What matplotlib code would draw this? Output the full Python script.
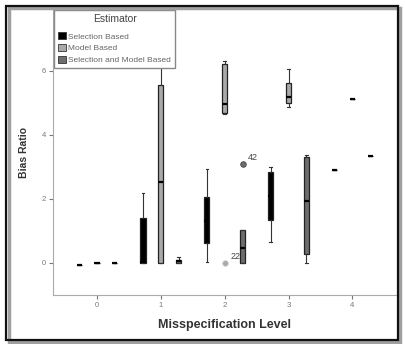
import matplotlib
matplotlib.use("Agg")
import matplotlib.pyplot as plt
from matplotlib.patches import Patch, Rectangle

plt.rcParams["font.family"] = ["Liberation Sans", "DejaVu Sans"]

# misspecification levels and box stats (whislo, q1, med, q3, whishi)
levels = [0, 1, 2, 3, 4]
estimators = ["Selection Based", "Model Based", "Selection and Model Based"]
colors = ["#000000", "#a9a9a9", "#6e6e6e"]
offsets = [-0.28, 0.0, 0.28]

sel_stats = [
    (-0.07, -0.07, -0.07, -0.07, -0.07),
    (0.0, 0.0, 0.03, 1.41, 2.2),
    (0.03, 0.63, 1.3, 2.05, 2.95),
    (0.65, 1.35, 2.1, 2.83, 3.0),
    (2.9, 2.9, 2.9, 2.9, 2.9),
]
mod_stats = [
    (0.0, 0.0, 0.0, 0.0, 0.0),
    (0.0, 0.0, 2.52, 5.57, 6.6),
    (4.65, 4.69, 4.97, 6.2, 6.3),
    (4.88, 5.0, 5.17, 5.63, 6.06),
    (5.13, 5.13, 5.13, 5.13, 5.13),
]
sm_stats = [
    (0.01, 0.01, 0.01, 0.01, 0.01),
    (0.0, 0.0, 0.05, 0.1, 0.2),
    (0.0, 0.0, 0.46, 1.02, 1.02),
    (0.0, 0.29, 1.92, 3.31, 3.38),
    (3.35, 3.35, 3.35, 3.35, 3.35),
]
all_stats = [sel_stats, mod_stats, sm_stats]

# labelled outliers: (estimator index, level, value, case label)
outliers = [(1, 2, 0.0, "22"), (2, 2, 3.08, "42")]

fig = plt.figure(figsize=(4.05, 3.44), dpi=100)
ax = fig.add_axes([53 / 405, 49 / 344, 344 / 405, 285 / 344])

for k, stats in enumerate(all_stats):
    bxp_stats = []
    for lev, (lo, q1, med, q3, hi) in zip(levels, stats):
        fl = [v for (e, l, v, _) in outliers if e == k and l == lev]
        bxp_stats.append(dict(whislo=lo, q1=q1, med=med, q3=q3, whishi=hi, fliers=fl))
    ax.bxp(bxp_stats, positions=[lev + offsets[k] for lev in levels], widths=0.08,
           capwidths=0.04, patch_artist=True, manage_ticks=False,
           boxprops=dict(facecolor=colors[k], edgecolor="#222222", linewidth=0.9),
           medianprops=dict(color="black", linewidth=1.6),
           whiskerprops=dict(color="#333333", linewidth=0.8),
           capprops=dict(color="#333333", linewidth=0.8),
           flierprops=dict(marker="o", markersize=4, markerfacecolor=colors[k],
                           markeredgecolor="#444444" if k == 2 else "#cccccc",
                           markeredgewidth=0.6))

for e, lev, v, lab in outliers:
    ax.annotate(lab, (lev + offsets[e], v), xytext=(4, 3), textcoords="offset points",
                fontsize=6.5, color="#444444")

ax.set_xlim(-0.69, 4.7)
ax.set_ylim(-1.0, 7.9)
ax.set_xticks(levels)
ax.set_xticklabels([str(l) for l in levels])
ax.set_yticks([0, 2, 4, 6])
ax.set_yticklabels(["0", "2", "4", "6"])
ax.tick_params(labelsize=5.5, colors="#777777", length=3, width=0.8, pad=2)
for s in ["top", "right"]:
    ax.spines[s].set_visible(False)
for s in ["left", "bottom"]:
    ax.spines[s].set_color("#aaaaaa")
    ax.spines[s].set_linewidth(0.8)

ax.set_xlabel("Misspecification Level", fontsize=9, fontweight="bold", color="#333333",
              labelpad=7)
ax.set_ylabel("Bias Ratio", fontsize=7.5, fontweight="bold", color="#333333", labelpad=9)

handles = [Patch(facecolor=c, edgecolor="#333333", linewidth=0.6) for c in colors]
leg = ax.legend(handles, estimators, title="Estimator", loc="upper left",
                bbox_to_anchor=(0.003, 1.0), fontsize=6.0, title_fontsize=7.5,
                fancybox=False, framealpha=1, edgecolor="#888888",
                handlelength=0.9, handleheight=0.9, handletextpad=0.3,
                labelspacing=0.4, borderpad=0.5, borderaxespad=0)
for t in leg.get_texts():
    t.set_color("#666666")
leg.get_title().set_color("#444444")
leg._legend_box.sep = 6
leg.get_frame().set_linewidth(1.0)

# framed border with a slight shadow (bottom / right) around the whole figure
fig.patches.append(Rectangle((9 / 405, 2 / 344), 391 / 405, 334 / 344, transform=fig.transFigure,
                             facecolor="none", edgecolor="#a0a0a0", linewidth=2.5, zorder=0))
fig.patches.append(Rectangle((6 / 405, 4 / 344), 392 / 405, 334 / 344, transform=fig.transFigure,
                             facecolor="none", edgecolor="#111111", linewidth=1.6, zorder=1))

fig.savefig("out.png", dpi=100)
